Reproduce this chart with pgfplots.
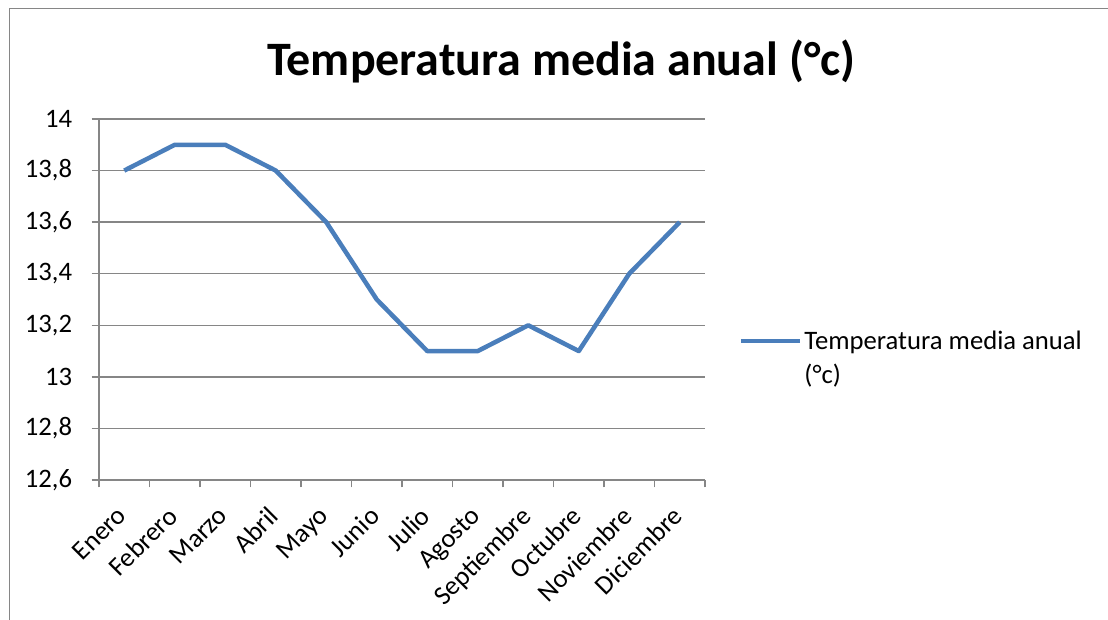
\documentclass[border=0pt]{standalone}
\usepackage{fontspec}
\setmainfont{Carlito}
\usepackage{pgfplots}
\pgfplotsset{compat=1.18}
\definecolor{exblue}{RGB}{74,126,187}
\definecolor{exgray}{RGB}{134,134,134}
\begin{document}
\begin{tikzpicture}
\path[use as bounding box] (0,0) rectangle (831pt,465pt);
\draw[exgray, line width=1.2pt] (7.1pt,0) -- (7.1pt,458.6pt) -- (831pt,458.6pt);
\node[anchor=base, font=\fontsize{36}{42}\selectfont\bfseries] at (421pt,408.5pt) {Temperatura media anual (°c)};
\begin{axis}[
  at={(74.25pt,105pt)}, anchor=south west,
  scale only axis, width=454.5pt, height=270.75pt,
  xmin=-0.5, xmax=11.5, ymin=12.6, ymax=14,
  axis x line*=bottom, axis y line*=left,
  x axis line style={-, exgray, line width=1pt},
  y axis line style={-, exgray, line width=1pt},
  xtick={0,...,11},
  xticklabels={Enero,Febrero,Marzo,Abril,Mayo,Junio,Julio,Agosto,Septiembre,Octubre,Noviembre,Diciembre},
  minor xtick={-0.5,0.5,...,11.5},
  major x tick style={draw=none},
  minor x tick style={exgray, line width=1pt},
  tick align=outside, minor tick length=5.5pt, major tick length=5.5pt,
  ytick={12.6,12.8,...,14.01},
  y tick style={exgray, line width=1pt},
  ymajorgrids, grid style={exgray, line width=1pt},
  /pgf/number format/assume math mode=true,
  /pgf/number format/use comma, /pgf/number format/fixed, /pgf/number format/precision=1,
  tick label style={font=\fontsize{20}{24}\selectfont},
  yticklabel style={anchor=east, inner sep=0pt, xshift=-14.5pt},
  xticklabel style={xshift=-6.5pt, yshift=-13pt, rotate=45, anchor=north east, inner sep=0pt},
  legend style={at={(1.055,0.337)}, anchor=west, draw=none, fill=none, inner sep=0pt,
    font=\fontsize{20}{26}\selectfont, nodes={align=left, anchor=west}},
  legend cell align=left,
  legend image code/.code={\draw[line width=3.4pt, exblue] (0pt,13pt) -- (44pt,13pt);},
]
\addplot[exblue, line width=3.4pt, line join=round, mark=none] coordinates {
(0,13.8) (1,13.9) (2,13.9) (3,13.8) (4,13.6) (5,13.3) (6,13.1) (7,13.1) (8,13.2) (9,13.1) (10,13.4) (11,13.6)};
\addlegendentry{Temperatura media anual\\(°c)}
\end{axis}
\end{tikzpicture}
\end{document}
